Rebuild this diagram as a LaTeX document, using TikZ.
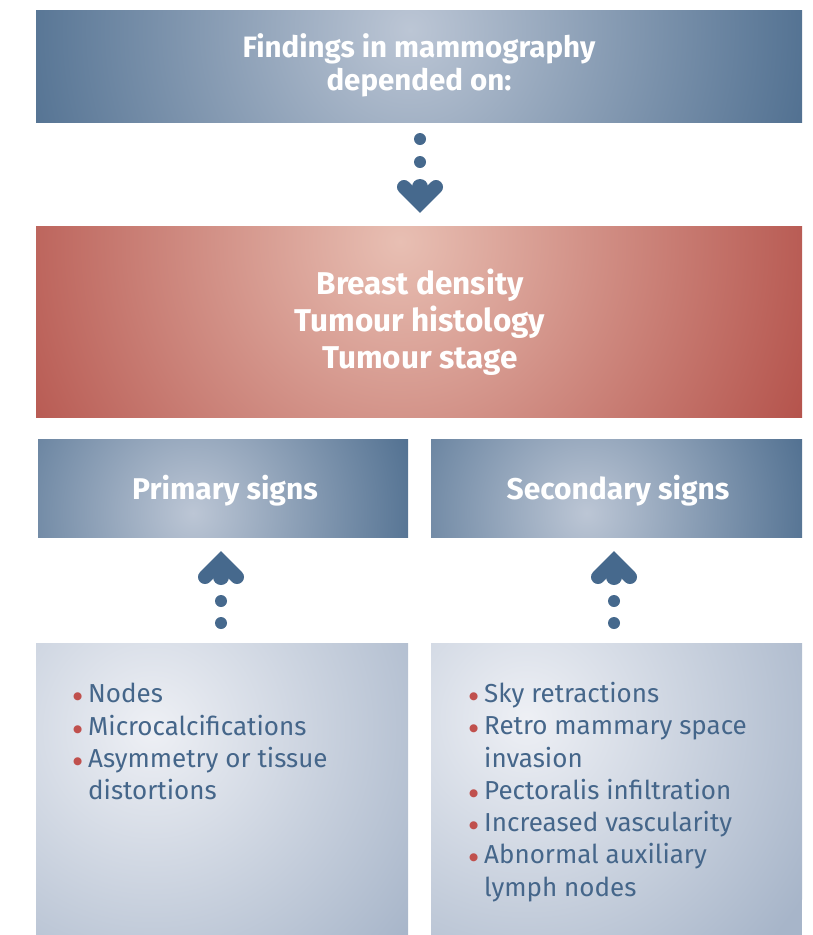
\documentclass[tikz,border=0pt]{standalone}
\usepackage{fontspec}
\setmainfont{Fira Sans}
\newfontfamily\dejavu{DejaVu Sans}
\usetikzlibrary{calc}
\definecolor{blueD}{HTML}{48698B}
\definecolor{blueL}{HTML}{BCC6D5}
\definecolor{redD}{HTML}{B24E47}
\definecolor{redL}{HTML}{E8BFB3}
\definecolor{greyD}{HTML}{A7B5C9}
\definecolor{greyL}{HTML}{EEF0F5}
\definecolor{txtc}{HTML}{45668A}
\definecolor{bulc}{HTML}{C0504D}
\definecolor{arrc}{HTML}{46698D}
\tikzset{
  box/.style={rectangle, inner sep=0pt, outer sep=0pt},
  headtxt/.style={text=white, align=center},
  listtxt/.style={text=txtc, align=left, anchor=north west, inner sep=0pt, font=\fontsize{26}{32.3}\selectfont},
  chev/.style={draw=arrc, line width=14pt, line cap=round, line join=miter},
  dotc/.style={fill=arrc}
}
\newcommand{\bul}{\makebox[15pt][l]{\textcolor{bulc}{\dejavu\fontsize{10.5}{10.5}\selectfont\raisebox{3pt}{●}}}}
\newcommand{\ind}{\hspace*{15pt}}
\begin{document}
\begin{tikzpicture}[x=1pt,y=-1pt]
\useasboundingbox (0,0) rectangle (812,935);
% top box
\node[box, fill=blueD, minimum width=766pt, minimum height=112pt, path picture={\shade[inner color=blueL, outer color=blueD] ([shift={(-9,-36)}]path picture bounding box.center) circle (440pt);}] (top) at (419,66) {};
\node[headtxt, font=\bfseries\fontsize{29.5}{33}\selectfont] (toptxt) at (419,65) {Findings in mammography\\depended on:};
% red box
\node[box, fill=redD, minimum width=766pt, minimum height=191pt, path picture={\shade[inner color=redL, outer color=redD] ([shift={(-19,-80)}]path picture bounding box.center) circle (460pt);}] (mid) at (419,321.5) {};
\node[headtxt, font=\bfseries\fontsize{31.5}{37}\selectfont] (midtxt) at (420,322) {Breast density\\Tumour histology\\Tumour stage};
% primary / secondary
\node[box, fill=blueD, minimum width=370pt, minimum height=98pt, path picture={\shade[inner color=blueL, outer color=blueD] ([shift={(-30,25)}]path picture bounding box.center) circle (250pt);}] (prim) at (223,488) {};
\node[headtxt, font=\bfseries\fontsize{30}{33}\selectfont] (primtxt) at (225,491) {Primary signs};
\node[box, fill=blueD, minimum width=371pt, minimum height=98pt, path picture={\shade[inner color=blueL, outer color=blueD] ([shift={(-30,25)}]path picture bounding box.center) circle (250pt);}] (sec) at (616.5,488) {};
\node[headtxt, font=\bfseries\fontsize{30}{33}\selectfont] (sectxt) at (618,491) {Secondary signs};
% bottom boxes
\node[box, fill=greyD, minimum width=372pt, minimum height=292pt, path picture={\shade[inner color=greyL, outer color=greyD] ([shift={(-70,-60)}]path picture bounding box.center) circle (330pt);}] (pl) at (222,789) {};
\node[box, fill=greyD, minimum width=371pt, minimum height=292pt, path picture={\shade[inner color=greyL, outer color=greyD] ([shift={(-90,-70)}]path picture bounding box.center) circle (330pt);}] (sl) at (616.5,789) {};
\node[listtxt] (pltxt) at (73,683) {\bul Nodes\\\bul Microcalcifications\\\bul Asymmetry or tissue\\\ind distortions};
\node[listtxt] (sltxt) at (469,682) {\bul Sky retractions\\\bul Retro mammary space\\\ind invasion\\\bul Pectoralis infiltration\\\bul Increased vascularity\\\bul Abnormal auxiliary\\\ind lymph nodes};
% down arrow top -> mid
\fill[dotc] ($(top.south)+(1,17)$) circle (6);
\fill[dotc] ($(top.south)+(1,40)$) circle (6);
\draw[chev] ($(top.south)+(-15,65)$) -- ($(top.south)+(1,81)$) -- ($(top.south)+(17,65)$);
\fill[dotc] ($(top.south)+(1,65)$) circle (8);
% up arrows
\foreach \n/\dx in {pl/-1,sl/-2.5}{
  \fill[dotc] ($(\n.north)+(\dx,-20)$) circle (6);
  \fill[dotc] ($(\n.north)+(\dx,-42)$) circle (6);
  \draw[chev] ($(\n.north)+(\dx-16,-66)$) -- ($(\n.north)+(\dx,-82)$) -- ($(\n.north)+(\dx+16,-66)$);
  \fill[dotc] ($(\n.north)+(\dx,-66)$) circle (8);
}
\end{tikzpicture}
\end{document}
